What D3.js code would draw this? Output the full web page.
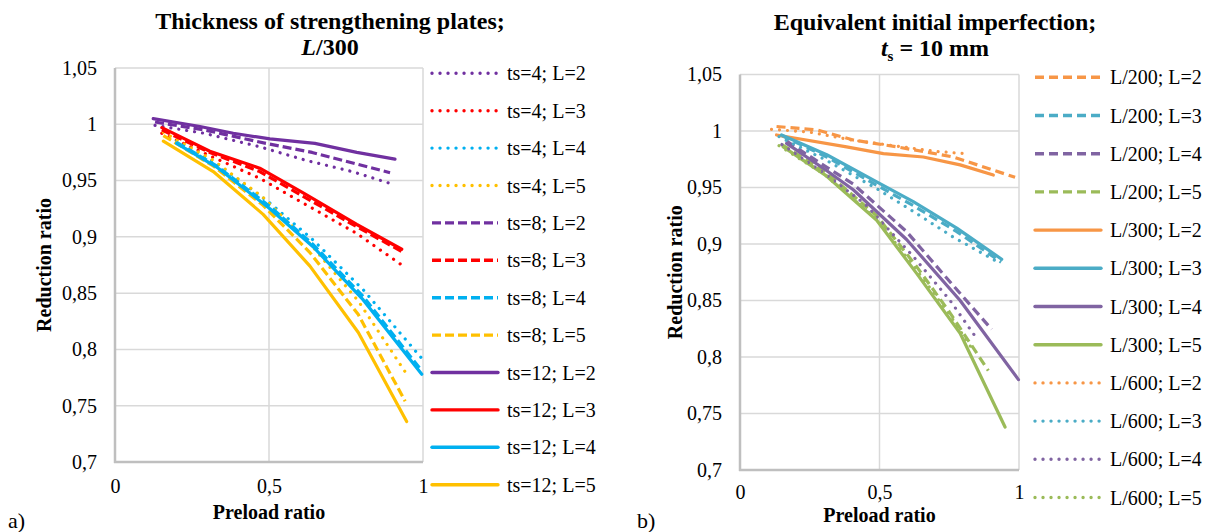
<!DOCTYPE html>
<html>
<head>
<meta charset="utf-8">
<script src="https://cdn.jsdelivr.net/npm/d3@7"></script>
<style>
  body { margin: 0; background: #fff; }
  svg { display: block; font-family: "Liberation Serif", "Times New Roman", serif; }
</style>
</head>
<body>
<svg id="chart" width="1217" height="532"></svg>
<script>
// axis ticks
const xTicks = [0, 0.5, 1];
const yTicks = [0.7, 0.75, 0.8, 0.85, 0.9, 0.95, 1, 1.05];

// a) thickness of strengthening plates, L/300  -> [preload ratio, reduction ratio]
const ts4_L2 = [[0.13, 0.999], [0.29, 0.992], [0.47, 0.980], [0.62, 0.968], [0.77, 0.958], [0.887, 0.948]];
const ts4_L3 = [[0.152, 0.992], [0.308, 0.972], [0.47, 0.952], [0.611, 0.930], [0.785, 0.903], [0.931, 0.875]];
const ts4_L4 = [[0.2, 0.985], [0.33, 0.965], [0.503, 0.930], [0.644, 0.897], [0.806, 0.853], [0.996, 0.792]];
const ts4_L5 = [[0.157, 0.993], [0.319, 0.968], [0.481, 0.935], [0.633, 0.894], [0.79, 0.843], [0.947, 0.778]];
const ts8_L2 = [[0.13, 1.002], [0.29, 0.995], [0.49, 0.983], [0.64, 0.975], [0.78, 0.965], [0.893, 0.957]];
const ts8_L3 = [[0.152, 0.995], [0.308, 0.975], [0.47, 0.958], [0.611, 0.936], [0.785, 0.909], [0.931, 0.887]];
const ts8_L4 = [[0.2, 0.984], [0.33, 0.963], [0.503, 0.927], [0.644, 0.893], [0.806, 0.847], [0.99, 0.783]];
const ts8_L5 = [[0.157, 0.990], [0.319, 0.963], [0.481, 0.928], [0.633, 0.886], [0.79, 0.831], [0.942, 0.754]];
const ts12_L2 = [[0.124, 1.005], [0.276, 0.998], [0.384, 0.992], [0.503, 0.987], [0.649, 0.983], [0.785, 0.975], [0.909, 0.969]];
const ts12_L3 = [[0.152, 0.997], [0.308, 0.976], [0.47, 0.961], [0.611, 0.939], [0.785, 0.911], [0.931, 0.889]];
const ts12_L4 = [[0.2, 0.983], [0.33, 0.962], [0.503, 0.925], [0.644, 0.891], [0.806, 0.844], [0.996, 0.778]];
const ts12_L5 = [[0.157, 0.985], [0.319, 0.958], [0.481, 0.920], [0.633, 0.874], [0.79, 0.815], [0.947, 0.736]];

const leftNames = ['ts=4; L=2', 'ts=4; L=3', 'ts=4; L=4', 'ts=4; L=5',
  'ts=8; L=2', 'ts=8; L=3', 'ts=8; L=4', 'ts=8; L=5',
  'ts=12; L=2', 'ts=12; L=3', 'ts=12; L=4', 'ts=12; L=5'];
const leftValues = [ts4_L2, ts4_L3, ts4_L4, ts4_L5, ts8_L2, ts8_L3, ts8_L4, ts8_L5,
  ts12_L2, ts12_L3, ts12_L4, ts12_L5];

// b) equivalent initial imperfection, ts = 10 mm
const L200_L2 = [[0.131, 1.004], [0.275, 1.001], [0.406, 0.992], [0.562, 0.986], [0.765, 0.977], [0.986, 0.959]];
const L200_L3 = [[0.149, 0.996], [0.311, 0.977], [0.49, 0.952], [0.621, 0.934], [0.777, 0.911], [0.936, 0.884]];
const L200_L4 = [[0.167, 0.991], [0.31, 0.968], [0.406, 0.953], [0.597, 0.911], [0.765, 0.863], [0.902, 0.8245]];
const L200_L5 = [[0.15, 0.988], [0.31, 0.963], [0.49, 0.925], [0.633, 0.88], [0.75, 0.84], [0.89, 0.788]];
const L300_L2 = [[0.131, 0.9965], [0.382, 0.986], [0.514, 0.980], [0.657, 0.977], [0.789, 0.970], [0.908, 0.961]];
const L300_L3 = [[0.149, 0.9965], [0.311, 0.979], [0.49, 0.955], [0.621, 0.9375], [0.777, 0.914], [0.938, 0.8865]];
const L300_L4 = [[0.167, 0.989], [0.31, 0.965], [0.406, 0.948], [0.597, 0.904], [0.789, 0.850], [0.998, 0.780]];
const L300_L5 = [[0.155, 0.986], [0.311, 0.96], [0.49, 0.921], [0.633, 0.874], [0.789, 0.821], [0.95, 0.738]];
const L600_L2 = [[0.113, 1.0015], [0.25, 0.999], [0.4, 0.992], [0.55, 0.987], [0.7, 0.982], [0.806, 0.980]];
const L600_L3 = [[0.14, 0.995], [0.31, 0.974], [0.49, 0.949], [0.62, 0.929], [0.765, 0.906], [0.932, 0.883]];
const L600_L4 = [[0.15, 0.988], [0.3, 0.963], [0.45, 0.935], [0.621, 0.889], [0.753, 0.850], [0.848, 0.8165]];
const L600_L5 = [[0.14, 0.987], [0.3, 0.962], [0.49, 0.922], [0.633, 0.877], [0.75, 0.838], [0.835, 0.806]];

const rightNames = ['L/200; L=2', 'L/200; L=3', 'L/200; L=4', 'L/200; L=5',
  'L/300; L=2', 'L/300; L=3', 'L/300; L=4', 'L/300; L=5',
  'L/600; L=2', 'L/600; L=3', 'L/600; L=4', 'L/600; L=5'];
const rightValues = [L200_L2, L200_L3, L200_L4, L200_L5, L300_L2, L300_L3, L300_L4, L300_L5,
  L600_L2, L600_L3, L600_L4, L600_L5];

const svg = d3.select('#chart');
const fmt = d => String(+d.toFixed(2)).replace('.', ',');

// line patterns
const dashOf = {
  dot: { arr: '0.01,8', cap: 'round' },
  dash: { arr: '9,4', cap: 'butt' },
  dash2: { arr: '9,5', cap: 'butt' },
  solid: { arr: null, cap: 'round' }
};

function drawPanel (cfg) {
  const x = d3.scaleLinear().domain([0, 1]).range([cfg.left, cfg.right]);
  const y = d3.scaleLinear().domain([0.7, 1.05]).range([cfg.bottom, cfg.top]);
  const g = svg.append('g');

  // gridlines
  g.selectAll('.hgrid').data(yTicks.filter(d => d > 0.7)).join('line')
    .attr('x1', x(0)).attr('x2', x(1))
    .attr('y1', d => y(d)).attr('y2', d => y(d))
    .attr('stroke', '#d9d9d9').attr('stroke-width', 1.5);
  g.selectAll('.vgrid').data(xTicks.filter(d => d > 0)).join('line')
    .attr('x1', d => x(d)).attr('x2', d => x(d))
    .attr('y1', y(1.05)).attr('y2', y(0.7))
    .attr('stroke', '#d9d9d9').attr('stroke-width', 1.5);

  // axis lines
  g.append('line').attr('x1', x(0)).attr('x2', x(0)).attr('y1', y(1.05)).attr('y2', y(0.7) + 1)
    .attr('stroke', '#bfbfbf').attr('stroke-width', 2.5);
  g.append('line').attr('x1', x(0) - 1).attr('x2', x(1)).attr('y1', y(0.7)).attr('y2', y(0.7))
    .attr('stroke', '#bfbfbf').attr('stroke-width', 2.5);

  // tick labels
  const yAx = g.append('g').attr('transform', `translate(${x(0)},0)`)
    .call(d3.axisLeft(y).tickValues(yTicks).tickFormat(fmt).tickSize(0).tickPadding(18));
  const xAx = g.append('g').attr('transform', `translate(0,${y(0.7)})`)
    .call(d3.axisBottom(x).tickValues(xTicks).tickFormat(fmt).tickSize(0).tickPadding(cfg.xPad));
  [yAx, xAx].forEach(a => {
    a.select('.domain').remove();
    a.attr('font-family', null).attr('font-size', null);
    a.selectAll('text').attr('fill', '#000').style('font-size', '20px');
  });

  // series
  const line = d3.line().x(d => x(d[0])).y(d => y(d[1]));
  cfg.values.forEach((vals, i) => {
    const st = dashOf[cfg.styles[i]];
    g.append('path').datum(vals)
      .attr('d', line)
      .attr('fill', 'none')
      .attr('stroke', cfg.colors[i % 4])
      .attr('stroke-width', 3.2)
      .attr('stroke-linejoin', 'round')
      .attr('stroke-linecap', st.cap)
      .attr('stroke-dasharray', st.arr);
  });

  // legend
  const leg = g.selectAll('.leg').data(cfg.names).join('g')
    .attr('transform', (d, i) => `translate(${cfg.legX},${cfg.legY + i * cfg.legStep})`);
  leg.append('line')
    .attr('x1', 0).attr('x2', 66).attr('y1', 0).attr('y2', 0)
    .attr('stroke', (d, i) => cfg.colors[i % 4])
    .attr('stroke-width', 3.4)
    .attr('stroke-linecap', (d, i) => dashOf[cfg.styles[i]].cap)
    .attr('stroke-dasharray', (d, i) => dashOf[cfg.styles[i]].arr);
  leg.append('text')
    .attr('x', 75).attr('y', 7)
    .style('font-size', '20px')
    .text(d => d);

  // axis titles
  g.append('text')
    .attr('x', x(0.5)).attr('y', cfg.xTitleY)
    .attr('text-anchor', 'middle')
    .style('font-size', '20px').style('font-weight', 'bold')
    .text('Preload ratio');
  g.append('text')
    .attr('transform', `translate(${cfg.yTitleX},${(y(0.7) + y(1.05)) / 2}) rotate(-90)`)
    .attr('text-anchor', 'middle')
    .style('font-size', '20px').style('font-weight', 'bold')
    .text('Reduction ratio');

  // panel letter
  g.append('text')
    .attr('x', cfg.letterX).attr('y', 528)
    .style('font-size', '22px')
    .text(cfg.letter);

  // title
  const t = g.append('g').attr('transform', `translate(${cfg.titleX},0)`)
    .style('font-size', '24px').style('font-weight', 'bold')
    .attr('text-anchor', 'middle');
  t.append('text').attr('y', cfg.titleY).text(cfg.title);
  cfg.subtitle(t.append('text').attr('y', cfg.titleY + 26));
}

const styles = ['dot', 'dot', 'dot', 'dot', 'dash', 'dash', 'dash', 'dash', 'solid', 'solid', 'solid', 'solid'];
const styles2 = ['dash2', 'dash2', 'dash2', 'dash2', 'solid', 'solid', 'solid', 'solid', 'dot', 'dot', 'dot', 'dot'];

drawPanel({
  left: 115, right: 423, top: 68, bottom: 462, xPad: 17,
  values: leftValues, names: leftNames, styles: styles,
  colors: ['#7030A0', '#FF0000', '#00B0F0', '#FFC000'],
  legX: 432, legY: 73.3, legStep: 37.4,
  xTitleY: 519, yTitleX: 51, letterX: 8, letter: 'a)',
  titleX: 330, titleY: 29,
  title: 'Thickness of strengthening plates;',
  subtitle: s => {
    s.append('tspan').style('font-style', 'italic').text('L');
    s.append('tspan').text('/300');
  }
});

drawPanel({
  left: 740, right: 1019, top: 74.5, bottom: 470, xPad: 15,
  values: rightValues, names: rightNames, styles: styles2,
  colors: ['#F79646', '#4BACC6', '#8064A2', '#9BBB59'],
  legX: 1035, legY: 77.3, legStep: 38.2,
  xTitleY: 522, yTitleX: 682, letterX: 637, letter: 'b)',
  titleX: 935, titleY: 30,
  title: 'Equivalent initial imperfection;',
  subtitle: s => {
    s.append('tspan').style('font-style', 'italic').text('t');
    s.append('tspan').attr('dy', 5).style('font-size', '15px').text('s');
    s.append('tspan').attr('dy', -5).text(' = 10 mm');
  }
});
</script>
</body>
</html>
